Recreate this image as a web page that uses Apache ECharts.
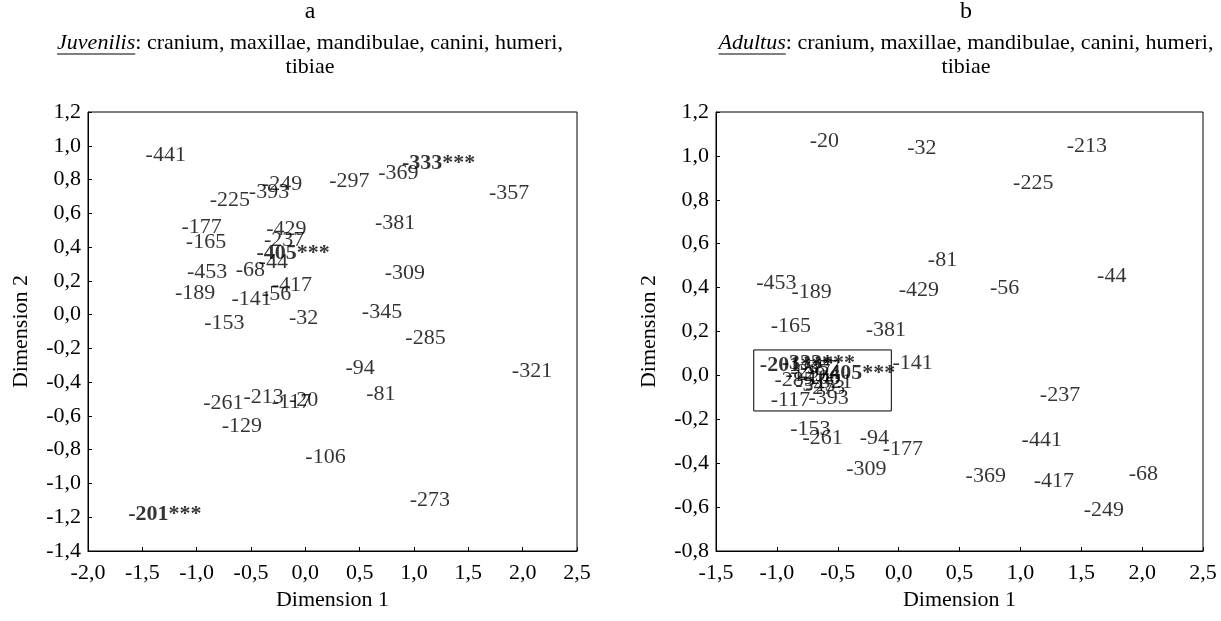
<!DOCTYPE html>
<html><head><meta charset="utf-8">
<script src="https://cdn.jsdelivr.net/npm/echarts@6/dist/echarts.min.js"></script>
<style>html,body{margin:0;padding:0;background:#fff}#c{width:1221px;height:621px}</style>
</head><body><div id="c"></div>
<script>
// ---- Panel a: Juvenilis ----
const juvLabels = ['-441','-225','-393','-249','-297','-369','-333***','-357','-381','-309','-345','-177','-165','-429','-237','-405***','-44','-453','-68','-189','-141','-56','-417','-153','-32','-285','-94','-321','-261','-213','-117','-20','-81','-129','-106','-273','-201***'];
const juvX = [-1.47,-0.88,-0.52,-0.40,0.22,0.67,0.89,1.69,0.64,0.73,0.52,-1.14,-1.10,-0.36,-0.38,-0.45,-0.43,-1.09,-0.64,-1.20,-0.68,-0.40,-0.31,-0.93,-0.15,0.92,0.37,1.90,-0.94,-0.57,-0.31,-0.15,0.56,-0.77,0.00,0.96,-1.63];
const juvY = [0.945,0.679,0.726,0.773,0.791,0.839,0.898,0.720,0.542,0.246,0.015,0.519,0.430,0.507,0.442,0.365,0.311,0.252,0.264,0.128,0.092,0.122,0.175,-0.050,-0.020,-0.139,-0.317,-0.334,-0.524,-0.488,-0.518,-0.506,-0.471,-0.660,-0.844,-1.099,-1.182];

// ---- Panel b: Adultus ----
const adLabels = ['-20','-32','-213','-225','-81','-44','-453','-189','-429','-56','-165','-381','-141','-237','-153','-261','-94','-177','-441','-309','-369','-417','-68','-249','-201***','-333***','-405***','-285','-117','-393','-297','-357','-345','-321','-129','-106','-273'];
const adX = [-0.73,0.07,1.38,0.94,0.24,1.63,-1.17,-0.88,0.00,0.75,-1.05,-0.27,-0.05,1.16,-0.89,-0.79,-0.32,-0.13,1.01,-0.43,0.55,1.11,1.89,1.52,-1.14,-0.96,-0.63,-1.02,-1.05,-0.74,-0.89,-0.81,-0.85,-0.71,-0.93,-0.81,-0.77];
const adY = [1.065,1.035,1.045,0.875,0.526,0.454,0.420,0.377,0.386,0.397,0.222,0.207,0.055,-0.089,-0.246,-0.287,-0.287,-0.337,-0.297,-0.428,-0.461,-0.480,-0.449,-0.613,0.047,0.056,0.011,-0.021,-0.112,-0.103,0.015,0.034,-0.044,-0.030,0.002,-0.012,-0.057];
const adBox = [[-1.19, 0.116], [-0.06, -0.162]];

const FONT = 'Liberation Serif';
const FS = 22;
function fmt(v){ return v.toFixed(1).replace('.', ','); }
function pts(xs, ys, labs){
  return xs.map((x,i)=>({value:[x, ys[i], labs[i]],
    label: labs[i].indexOf('*')>=0 ? {fontWeight:'bold'} : {}}));
}
function axisX(gi, min, max){
  return {type:'value', gridIndex:gi, min:min, max:max, interval:0.5,
    name:'Dimension 1', nameLocation:'middle', nameGap:32,
    nameTextStyle:{fontFamily:FONT, fontSize:FS, color:'#000'},
    axisLine:{show:true, onZero:false, lineStyle:{color:'#000'}},
    axisTick:{show:true, inside:true, length:4, lineStyle:{color:'#000'}},
    axisLabel:{formatter:fmt, fontFamily:FONT, fontSize:FS, color:'#000', margin:11},
    splitLine:{show:false}};
}
function axisY(gi, min, max){
  return {type:'value', gridIndex:gi, min:min, max:max, interval:0.2,
    name:'Dimension 2', nameLocation:'middle', nameGap:56,
    nameTextStyle:{fontFamily:FONT, fontSize:FS, color:'#000'},
    axisLine:{show:true, onZero:false, lineStyle:{color:'#000'}},
    axisTick:{show:true, inside:true, length:4, lineStyle:{color:'#000'}},
    axisLabel:{formatter:fmt, fontFamily:FONT, fontSize:FS, color:'#000', margin:7},
    splitLine:{show:false}};
}
const labelStyle = {show:true, position:'right', distance:0, formatter:p=>p.value[2],
  fontFamily:FONT, fontSize:FS, color:'#000'};

// measure text for underline placement
const mctx = document.createElement('canvas').getContext('2d');
function tw(txt, italic){ mctx.font = (italic?'italic ':'') + FS + 'px "' + FONT + '"'; return mctx.measureText(txt).width; }

const chart = echarts.init(document.getElementById('c'), null, {renderer:'canvas'});
function titleTexts(cx, letter, word){
  const rest = ': cranium, maxillae, mandibulae, canini, humeri,';
  const wW = tw(word, true), total = wW + tw(rest, false);
  const x0 = cx - total/2;
  return [
    {type:'text', x:cx, y:0, style:{text:letter, fontFamily:FONT, fontSize:24, fill:'#000', align:'center'}},
    {type:'text', x:cx, y:32, style:{text:'{i|'+word+'}'+rest, fontFamily:FONT, fontSize:FS, fill:'#000', align:'center',
      rich:{i:{fontStyle:'italic', fontFamily:FONT, fontSize:FS, fill:'#000'}}}},
    {type:'line', shape:{x1:x0, y1:54, x2:x0+wW, y2:54}, style:{stroke:'#000', lineWidth:1}},
    {type:'text', x:cx, y:56, style:{text:'tibiae', fontFamily:FONT, fontSize:FS, fill:'#000', align:'center'}}
  ];
}
chart.setOption({
  animation:false,
  backgroundColor:'#fff',
  grid:[
    {left:88, right:644, top:112, bottom:70, show:true, borderColor:'#000', borderWidth:1},
    {left:716, right:18, top:112, bottom:70, show:true, borderColor:'#000', borderWidth:1}
  ],
  xAxis:[axisX(0,-2.0,2.5), axisX(1,-1.5,2.5)],
  yAxis:[axisY(0,-1.4,1.2), axisY(1,-0.8,1.2)],
  graphic: titleTexts(310,'a','Juvenilis').concat(titleTexts(966,'b','Adultus')),
  series:[
    {type:'scatter', xAxisIndex:0, yAxisIndex:0, symbolSize:0, data:pts(juvX,juvY,juvLabels), label:labelStyle},
    {type:'scatter', xAxisIndex:1, yAxisIndex:1, symbolSize:0, data:pts(adX,adY,adLabels), label:labelStyle,
      markArea:{silent:true, itemStyle:{color:'rgba(0,0,0,0)', borderColor:'#000', borderWidth:1},
        data:[[{coord:adBox[0]},{coord:adBox[1]}]]}}
  ]
});
</script></body></html>
